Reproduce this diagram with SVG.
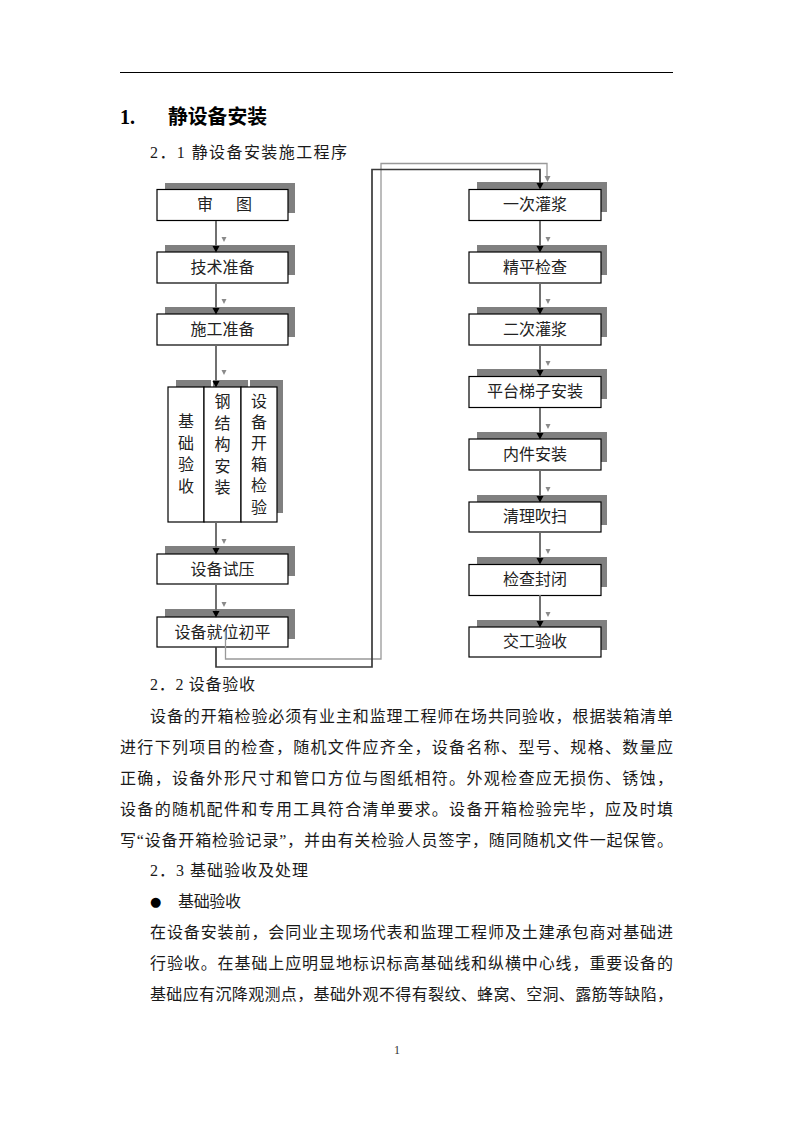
<svg xmlns="http://www.w3.org/2000/svg" width="793" height="1122" viewBox="0 0 793 1122">
<style>
.t{font-family:"Liberation Serif","Noto Sans CJK SC",serif;font-size:16px;fill:#1a1a1a}
.bt{font-family:"Liberation Serif","Noto Sans CJK SC",serif;font-size:16px;fill:#222;text-anchor:middle}
.sh{fill:#808080}
.bx{fill:#fff;stroke:#000;stroke-width:1.2}
.ln{stroke:#6a6a6a;stroke-width:1.9;fill:none}
.hd{fill:#000}
.gh{fill:#8a8a8a}
</style>
<rect width="793" height="1122" fill="#fff"/>
<line x1="120" y1="72.5" x2="673" y2="72.5" stroke="#000" stroke-width="1"/>
<text x="120" y="124" style="font-family:'Liberation Serif',serif;font-size:20px;font-weight:bold">1.</text>
<text x="168" y="124" style="font-family:'Noto Sans CJK SC',sans-serif;font-size:20px;font-weight:bold" textLength="99" lengthAdjust="spacingAndGlyphs">静设备安装</text>
<text class="t" x="150" y="158" textLength="197" lengthAdjust="spacing">2．1 静设备安装施工程序</text>

<g id="n1"><rect class="sh" x="165" y="183" width="130" height="30"/><rect class="bx" x="157" y="189.5" width="131" height="31"/><text class="bt" x="205" y="210">审<tspan x="244">图</tspan></text></g>
<g id="n2"><rect class="sh" x="165" y="245" width="130" height="30"/><rect class="bx" x="157" y="252" width="131" height="31"/><text class="bt" x="222.5" y="273">技术准备</text></g>
<g id="n3"><rect class="sh" x="165" y="307" width="130" height="30"/><rect class="bx" x="157" y="314" width="131" height="31"/><text class="bt" x="222.5" y="335">施工准备</text></g>
<g id="n4"><rect class="sh" x="176" y="380" width="35" height="133"/><rect class="bx" x="168" y="387" width="36" height="135"/><text class="bt" x="186" y="427">基<tspan x="186" dy="21.7">础</tspan><tspan x="186" dy="21.7">验</tspan><tspan x="186" dy="21.7">收</tspan></text></g>
<g id="n5"><rect class="sh" x="213" y="380" width="35" height="133"/><rect class="bx" x="204" y="387" width="37" height="135"/><text class="bt" x="222.5" y="407">钢<tspan x="222.5" dy="21.5">结</tspan><tspan x="222.5" dy="21.5">构</tspan><tspan x="222.5" dy="21.5">安</tspan><tspan x="222.5" dy="21.5">装</tspan></text></g>
<g id="n6"><rect class="sh" x="250" y="380" width="33" height="133"/><rect class="bx" x="241" y="387" width="36" height="135"/><text class="bt" x="259" y="407">设<tspan x="259" dy="21.1">备</tspan><tspan x="259" dy="21.1">开</tspan><tspan x="259" dy="21.1">箱</tspan><tspan x="259" dy="21.1">检</tspan><tspan x="259" dy="21.1">验</tspan></text></g>
<g id="n7"><rect class="sh" x="165" y="546" width="130" height="30"/><rect class="bx" x="157" y="554" width="131" height="30"/><text class="bt" x="222.5" y="575">设备试压</text></g>
<g id="n8"><rect class="sh" x="165" y="609" width="130" height="30"/><rect class="bx" x="157" y="617" width="131" height="30"/><text class="bt" x="222.5" y="638">设备就位初平</text></g>

<g id="r1"><rect class="sh" x="477" y="182" width="130" height="30"/><rect class="bx" x="469" y="189.5" width="132" height="31"/><text class="bt" x="535" y="210">一次灌浆</text></g>
<g id="r2"><rect class="sh" x="477" y="245" width="130" height="30"/><rect class="bx" x="469" y="252" width="132" height="31"/><text class="bt" x="535" y="273">精平检查</text></g>
<g id="r3"><rect class="sh" x="477" y="307" width="130" height="30"/><rect class="bx" x="469" y="314" width="132" height="31"/><text class="bt" x="535" y="335">二次灌浆</text></g>
<g id="r4"><rect class="sh" x="477" y="369" width="130" height="30"/><rect class="bx" x="469" y="376.5" width="132" height="31"/><text class="bt" x="535" y="397">平台梯子安装</text></g>
<g id="r5"><rect class="sh" x="477" y="432" width="130" height="30"/><rect class="bx" x="469" y="439" width="132" height="31"/><text class="bt" x="535" y="460">内件安装</text></g>
<g id="r6"><rect class="sh" x="477" y="495" width="130" height="30"/><rect class="bx" x="469" y="502" width="132" height="30"/><text class="bt" x="535" y="522">清理吹扫</text></g>
<g id="r7"><rect class="sh" x="477" y="557" width="130" height="30"/><rect class="bx" x="469" y="564.5" width="132" height="31"/><text class="bt" x="535" y="585">检查封闭</text></g>
<g id="r8"><rect class="sh" x="477" y="620" width="130" height="30"/><rect class="bx" x="469" y="627" width="132" height="30"/><text class="bt" x="535" y="647">交工验收</text></g>

<g id="connectors">
<path class="ln" d="M216 221V246M216 283V308M216 345V381M216 522V548M216 584V611"/>
<path class="hd" d="M212.5 246H219.5L216 252.5ZM212.5 308H219.5L216 314.5ZM212.5 381H219.5L216 387.5ZM212.5 548H219.5L216 554.5ZM212.5 611H219.5L216 617.5Z"/>
<path class="gh" d="M221.5 237H226.5L224 242ZM221.5 299H226.5L224 304ZM221.5 370H226.5L224 375ZM221.5 539H226.5L224 544ZM221.5 602H226.5L224 607Z"/>
<path class="ln" d="M540 221V246M540 283V308M540 345V370M540 408V433M540 470V496M540 532V558M540 595V621"/>
<path class="hd" d="M536.5 246H543.5L540 252.5ZM536.5 308H543.5L540 314.5ZM536.5 370H543.5L540 376.5ZM536.5 433H543.5L540 439.5ZM536.5 496H543.5L540 502.5ZM536.5 558H543.5L540 564.5ZM536.5 621H543.5L540 627.5Z"/>
<path class="gh" d="M545.5 237H550.5L548 242ZM545.5 299H550.5L548 304ZM545.5 361H550.5L548 366ZM545.5 424H550.5L548 429ZM545.5 487H550.5L548 492ZM545.5 549H550.5L548 554ZM545.5 612H550.5L548 617Z"/>
<path d="M225.5 630V659H381V163.5H547V178" fill="none" stroke="#999" stroke-width="1.3"/>
<path class="gh" d="M544.5 176H550.5L547.5 182Z"/>
<path d="M216 647V667H372V169.5H540V183" fill="none" stroke="#3a3a3a" stroke-width="1.7"/>
<path class="hd" d="M536.5 183H543.5L540 189.5Z"/>
</g>

<text class="t" x="150" y="690" textLength="105" lengthAdjust="spacing">2．2 设备验收</text>
<text class="t" x="150" y="722" textLength="523" lengthAdjust="spacing">设备的开箱检验必须有业主和监理工程师在场共同验收，根据装箱清单</text>
<text class="t" x="120" y="753" textLength="553" lengthAdjust="spacing">进行下列项目的检查，随机文件应齐全，设备名称、型号、规格、数量应</text>
<text class="t" x="120" y="784" textLength="553" lengthAdjust="spacing">正确，设备外形尺寸和管口方位与图纸相符。外观检查应无损伤、锈蚀，</text>
<text class="t" x="120" y="815" textLength="553" lengthAdjust="spacing">设备的随机配件和专用工具符合清单要求。设备开箱检验完毕，应及时填</text>
<text class="t" x="120" y="846" textLength="553" lengthAdjust="spacing">写“设备开箱检验记录”，并由有关检验人员签字，随同随机文件一起保管。</text>
<text class="t" x="150" y="876" textLength="158" lengthAdjust="spacing">2．3 基础验收及处理</text>
<text x="150" y="906" style="font-family:'DejaVu Sans',sans-serif;font-size:13px">●</text>
<text class="t" x="178" y="907" textLength="63" lengthAdjust="spacing">基础验收</text>
<text class="t" x="150" y="938" textLength="523" lengthAdjust="spacing">在设备安装前，会同业主现场代表和监理工程师及土建承包商对基础进</text>
<text class="t" x="150" y="969" textLength="523" lengthAdjust="spacing">行验收。在基础上应明显地标识标高基础线和纵横中心线，重要设备的</text>
<text class="t" x="150" y="1000" textLength="523" lengthAdjust="spacing">基础应有沉降观测点，基础外观不得有裂纹、蜂窝、空洞、露筋等缺陷，</text>
<text x="397" y="1054" style="font-family:'Liberation Serif',serif;font-size:12px;fill:#333" text-anchor="middle">1</text>
</svg>
